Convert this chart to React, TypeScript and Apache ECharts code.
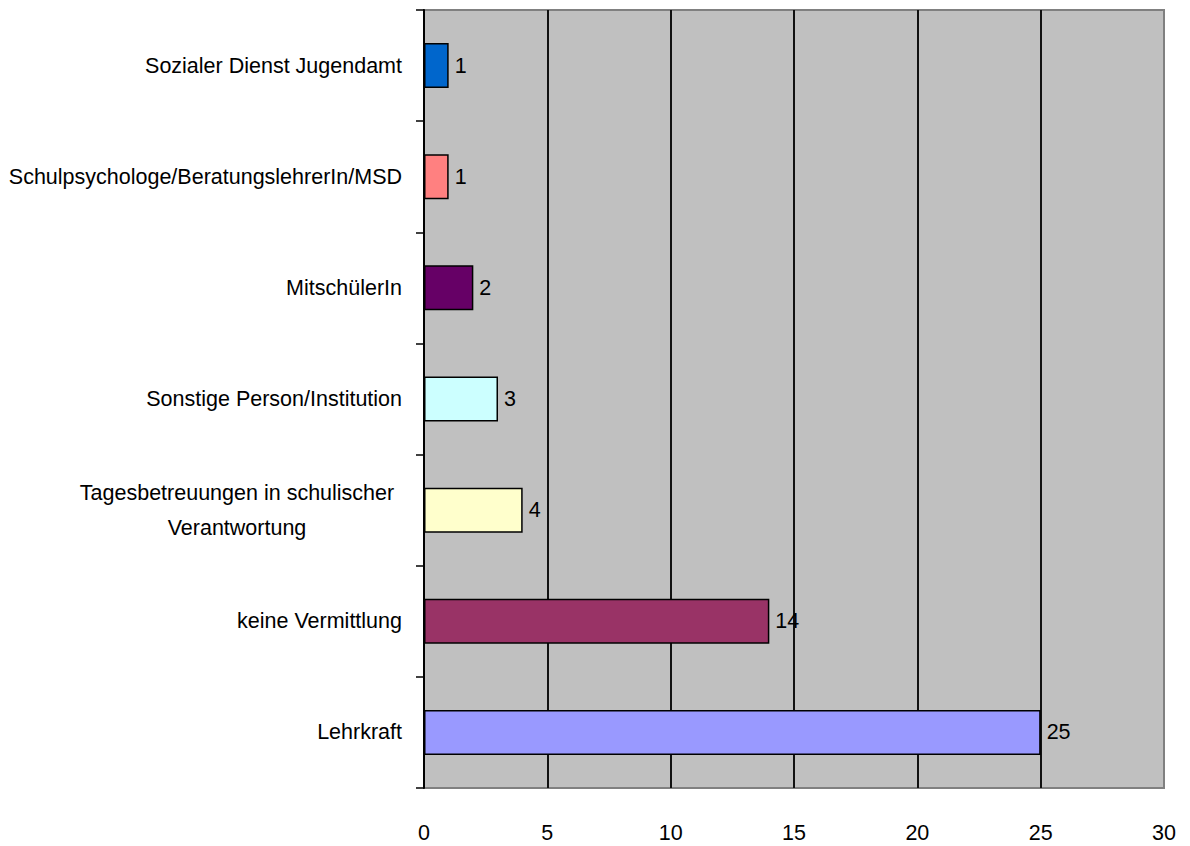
import React, { useEffect, useRef } from "react";
import * as echarts from "echarts";

const categories = [
  "Sozialer Dienst Jugendamt",
  "Schulpsychologe/BeratungslehrerIn/MSD",
  "MitschülerIn",
  "Sonstige Person/Institution",
  "Tagesbetreuungen in schulischer\nVerantwortung",
  "keine Vermittlung",
  "Lehrkraft",
];
const values = [1, 1, 2, 3, 4, 14, 25];
const barColors = ["#0066cc", "#ff8080", "#660066", "#ccffff", "#ffffcc", "#993366", "#9999ff"];
const xTicks = [0, 5, 10, 15, 20, 25, 30];

const FONT = "'Liberation Sans', Arial, sans-serif";
const FS = 21.5;

export default function App() {
  const ref = useRef<HTMLDivElement>(null);
  useEffect(() => {
    if (!ref.current) return;
    const chart = echarts.init(ref.current, undefined, { renderer: "svg" });
    chart.setOption({
      animation: false,
      backgroundColor: "#ffffff",
      textStyle: { fontFamily: FONT },
      grid: {
        left: 424,
        right: 26,
        top: 10,
        bottom: 58,
        show: true,
        backgroundColor: "#c0c0c0",
        borderColor: "#808080",
        borderWidth: 2,
      },
      xAxis: {
        type: "value",
        min: xTicks[0],
        max: xTicks[xTicks.length - 1],
        interval: 5,
        axisLine: { show: false },
        axisTick: { show: false },
        splitLine: {
          show: true,
          showMinLine: false,
          showMaxLine: false,
          lineStyle: { color: "#111111", width: 2 },
        },
        axisLabel: { fontSize: FS, color: "#000", margin: 34, fontFamily: FONT },
      },
      yAxis: {
        type: "category",
        inverse: true,
        data: categories,
        axisLine: { show: true, lineStyle: { color: "#000", width: 2 } },
        axisTick: { show: true, length: 8, lineStyle: { color: "#000", width: 1.5 } },
        splitLine: { show: false },
        axisLabel: {
          fontSize: FS,
          color: "#000",
          margin: 22,
          fontFamily: FONT,
          formatter: (v: string) => {
            if (v.indexOf("\n") >= 0) {
              return v
                .split("\n")
                .map((l) => "{c|" + l + "}")
                .join("\n");
            }
            return v;
          },
          rich: {
            c: {
              width: 330,
              align: "center",
              fontSize: FS,
              lineHeight: 35,
              color: "#000",
              fontFamily: FONT,
            },
          },
        },
      },
      series: [
        {
          type: "bar",
          barWidth: 45,
          data: values.map((v, i) => ({
            value: v,
            itemStyle: { color: barColors[i], borderColor: "#000", borderWidth: 1.5 },
          })),
          label: {
            show: true,
            position: "right",
            distance: 6,
            fontSize: FS,
            color: "#000",
            fontFamily: FONT,
          },
        },
      ],
    });
    return () => chart.dispose();
  }, []);
  return (
    <div
      ref={ref}
      style={{ position: "fixed", left: 0, top: 0, width: 1190, height: 846, background: "#fff" }}
    />
  );
}
